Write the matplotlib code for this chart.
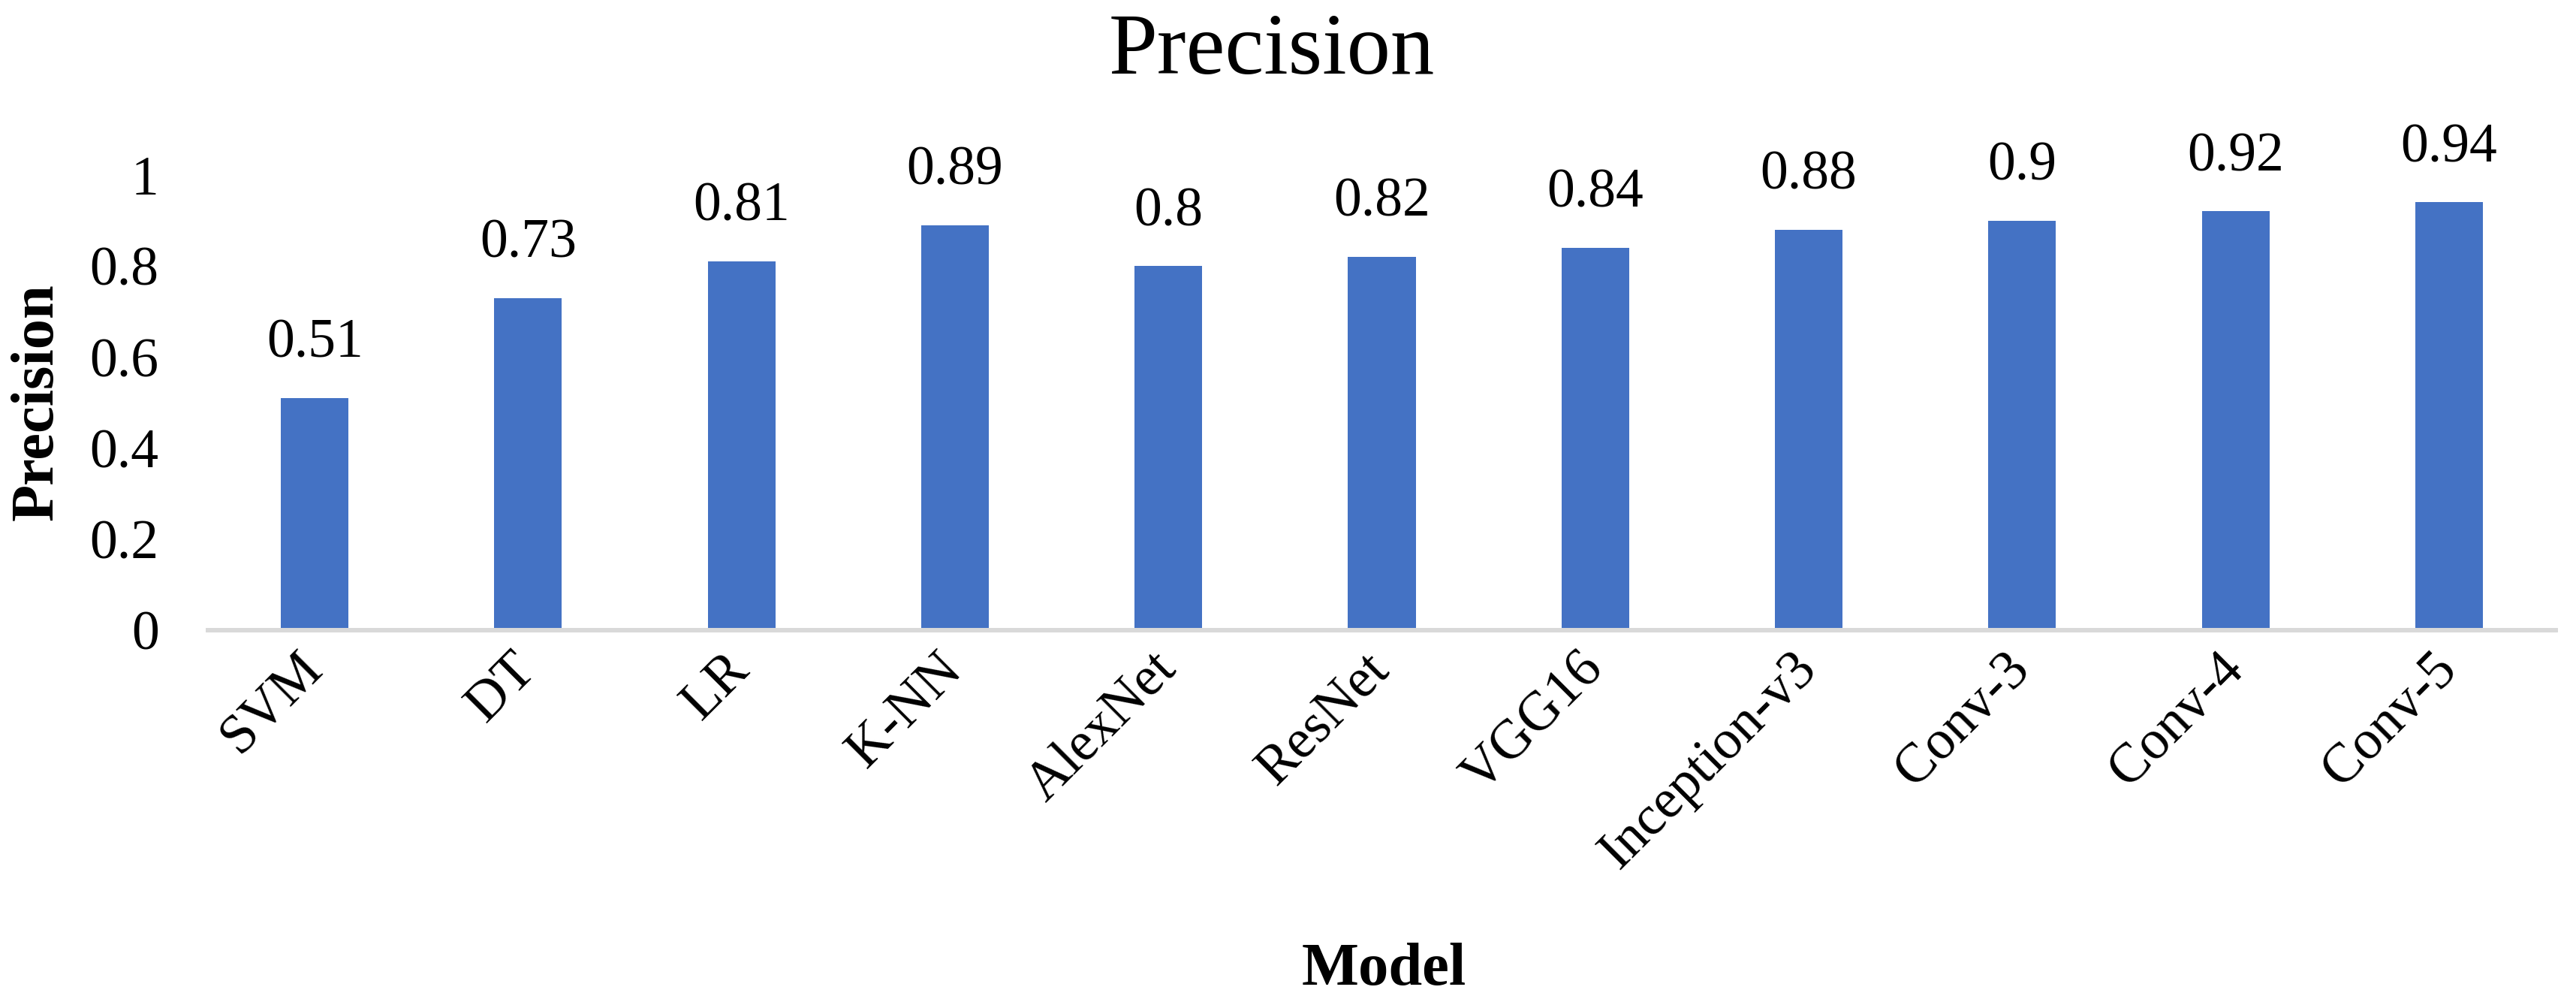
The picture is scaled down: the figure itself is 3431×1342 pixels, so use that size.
import matplotlib
matplotlib.use("Agg")
import matplotlib.pyplot as plt

models = ["SVM", "DT", "LR", "K-NN", "AlexNet", "ResNet", "VGG16",
          "Inception-v3", "Conv-3", "Conv-4", "Conv-5"]
precision = [0.51, 0.73, 0.81, 0.89, 0.80, 0.82, 0.84, 0.88, 0.90, 0.92, 0.94]
value_labels = ["0.51", "0.73", "0.81", "0.89", "0.8", "0.82", "0.84", "0.88", "0.9", "0.92", "0.94"]
y_ticks = [0, 0.2, 0.4, 0.6, 0.8, 1.0]
y_tick_labels = ["0", "0.2", "0.4", "0.6", "0.8", "1"]

plt.rcParams['font.family'] = ['Liberation Serif', 'DejaVu Serif']

W, H = 3431, 1342
fig = plt.figure(figsize=(W / 100, H / 100), dpi=100)
left, right = 277 / W, 3404 / W
bottom, top = 1 - 839 / H, 1 - 233 / H
ax = fig.add_axes([left, bottom, right - left, top - bottom])

x = range(len(models))
bars = ax.bar(x, precision, width=0.317, color="#4472C4", zorder=2)

ax.set_xlim(-0.5, len(models) - 0.5)
ax.set_ylim(0, 1)
ax.set_yticks(y_ticks)
ax.set_yticklabels(y_tick_labels, fontsize=53)
ax.set_xticks(list(x))
ax.set_xticklabels(models, fontsize=53, rotation=45, ha="right",
                   va="center", rotation_mode="anchor")

for s in ["top", "right", "left"]:
    ax.spines[s].set_visible(False)
ax.spines["bottom"].set_color("#D9D9D9")
ax.spines["bottom"].set_linewidth(4.3)
ax.spines["bottom"].set_zorder(3)
ax.tick_params(axis="y", length=0, pad=47)
ax.tick_params(axis="x", length=0, pad=30)

for xi, v, lab in zip(x, precision, value_labels):
    ax.annotate(lab, (xi, v), xytext=(0, 39), textcoords="offset points",
                ha="center", va="baseline", fontsize=53, annotation_clip=False)

fig.text(1694 / W, 1 - 70 / H, "Precision", ha="center", va="center", fontsize=84)
fig.text(1843 / W, 1 - 1291 / H, "Model", ha="center", va="center",
         fontsize=58, fontweight="bold")
fig.text(50 / W, 1 - 535 / H, "Precision", ha="center", va="center",
         fontsize=58, fontweight="bold", rotation=90)

fig.savefig("out.png", dpi=100, facecolor="white")
